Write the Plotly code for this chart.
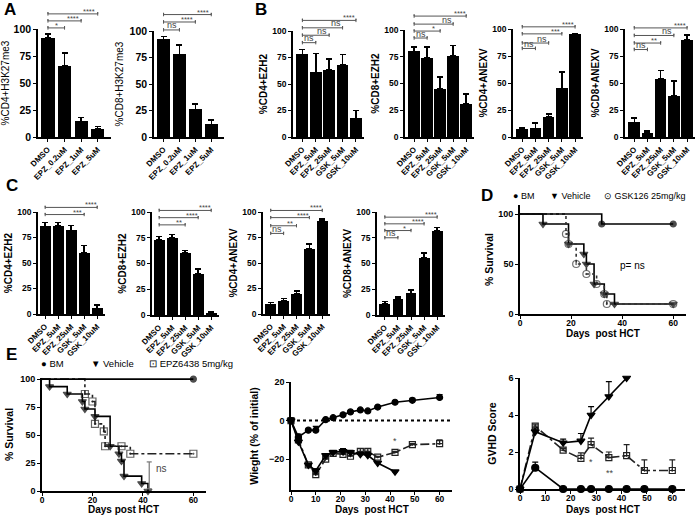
import plotly.graph_objects as go

W, H = 700, 515
FONT = "Liberation Sans, Arial, sans-serif"

# ---------------- data ----------------
A_cats = ["DMSO", "EPZ_0.2uM", "EPZ_1uM", "EPZ_5uM"]
BC_cats = ["DMSO", "EPZ_5uM", "EPZ_25uM", "GSK_5uM", "GSK_10uM"]

A1_mean = [92, 66, 14.5, 7.5]
A1_err = [3.5, 12, 3.5, 2]
A1_sig_to = [1, 2, 3]
A1_sig_lbl = ["*", "****", "****"]
A1_sig_y = [101, 107.5, 114]

A2_mean = [92, 78, 26, 12]
A2_err = [3, 9, 5, 4]
A2_sig_to = [1, 2, 3]
A2_sig_lbl = ["ns", "****", "****"]
A2_sig_y = [101, 108.5, 115.5]

B1_mean = [78, 61, 63, 68, 17.5]
B1_err = [4.5, 18, 10.5, 10, 7.5]
B1_sig_to = [1, 2, 3, 4]
B1_sig_lbl = ["ns", "ns", "ns", "****"]
B1_sig_y = [89, 96, 103, 110]

B2_mean = [80, 74, 45, 76, 31]
B2_err = [4, 10, 11, 9.5, 9]
B2_sig_to = [1, 2, 3, 4]
B2_sig_lbl = ["ns", "*", "ns", "****"]
B2_sig_y = [92.5, 99, 105.5, 113]

B3_mean = [7, 8, 18.5, 45, 95]
B3_err = [1.5, 5, 3, 15, 1]
B3_sig_to = [1, 2, 3, 4]
B3_sig_lbl = ["ns", "ns", "***", "****"]
B3_sig_y = [82, 87, 95.5, 102]

B4_mean = [13.5, 3.7, 54, 38, 90]
B4_err = [4.3, 2, 7.5, 14, 4.5]
B4_sig_to = [1, 2, 3, 4]
B4_sig_lbl = ["ns", "**", "ns", "****"]
B4_sig_y = [81, 87, 94, 101]

C1_mean = [86, 86.5, 82, 60, 5.5]
C1_err = [3.5, 3, 5, 7, 3.5]
C1_sig_to = [3, 4]
C1_sig_lbl = ["***", "****"]
C1_sig_y = [97.5, 104.5]

C2_mean = [73, 75, 60, 40, 2]
C2_err = [3, 3, 2.5, 4.5, 1]
C2_sig_to = [2, 3, 4]
C2_sig_lbl = ["**", "****", "****"]
C2_sig_y = [87.5, 94.5, 101.5]

C3_mean = [9.5, 13, 20, 64, 91]
C3_err = [2, 2, 2.5, 4.5, 2]
C3_sig_to = [1, 2, 3, 4]
C3_sig_lbl = ["ns", "**", "****", "****"]
C3_sig_y = [79, 86.5, 94.5, 101.5]

C4_mean = [11, 15.5, 21, 55.5, 82]
C4_err = [2, 2, 3.5, 4.5, 3]
C4_sig_to = [1, 2, 3, 4]
C4_sig_lbl = ["ns", "*", "****", "****"]
C4_sig_y = [75, 82, 88.5, 95]

# D: survival (GSK126)
D_BM_day = [0, 32, 60]
D_BM_surv = [100, 90, 90]
D_veh_day = [0, 9, 19, 25, 26, 29, 33, 37, 60]
D_veh_surv = [100, 90, 70, 60, 50, 30, 20, 10, 10]
D_gsk_day = [0, 18, 19, 22, 26, 30, 33, 34, 60]
D_gsk_surv = [100, 80, 70, 50, 40, 30, 20, 10, 10]

# E1: survival (EPZ6438)
E1_BM_day = [0, 60]
E1_BM_surv = [100, 100]
E1_veh_day = [0, 3, 10, 16, 17, 21, 27, 30.5, 31.5, 32.5, 39.5, 42]
E1_veh_surv = [100, 93.3, 86.7, 80, 73.3, 66.7, 40, 33.3, 26.7, 13.3, 6.7, 0]
E1_epz_day = [0, 17, 20, 21, 24.5, 25, 31.5, 35, 60]
E1_epz_surv = [100, 86.7, 80, 60, 53.3, 40, 40, 33.3, 33.3]
E1_ns_day = 42.5
E1_ns_lo, E1_ns_hi = 2, 26

# E2: weight
E2_days = [0, 3, 7, 10, 14, 17, 21, 24, 28, 31, 35, 42, 49, 60]
E2_BM = [0, -8.5, -5, -5, 0.5, 1.5, 3, 4.5, 5.5, 5, 7, 9.5, 10.5, 12]
E2_BM_err = [0, 1.5, 1, 2, 0.5, 0.5, 0.5, 0.5, 0.5, 0.5, 0.5, 0.5, 1, 1.5]
E2_veh_days = [0, 3, 7, 10, 14, 17, 21, 24, 28, 31, 35, 42]
E2_veh = [0, -11, -23, -26, -18, -16.5, -16, -16.5, -17.5, -18, -22, -26.5]
E2_veh_err = [0, 1, 0.5, 1, 0.5, 0.5, 1.5, 1, 1, 1.5, 0.5, 0.5]
E2_epz = [0, -10, -23, -28, -20, -17, -17.5, -18.5, -16, -16, -19, -16.5, -12.5, -12]
E2_epz_err = [0, 1, 0.5, 0.5, 0.5, 0.5, 0.5, 0.5, 1.5, 1.5, 0.5, 0.5, 0.5, 2]
E2_star = (42, -10.5, "*")

# E3: GVHD score
E3_BM_days = [0, 6, 17, 24, 28, 35, 42, 49, 60]
E3_BM = [0, 1.15, 0, 0, 0, 0, 0, 0, 0]
E3_BM_err = [0, 0.3, 0, 0, 0, 0, 0, 0, 0]
E3_veh_days = [0, 6, 17, 24, 28, 35, 42]
E3_veh = [0, 3.1, 2.5, 2.6, 4.0, 5.0, 6.0]
E3_veh_err = [0, 0.2, 0.2, 0.4, 0.45, 0.8, 0]
E3_epz_days = [0, 6, 17, 24, 28, 35, 42, 49, 60]
E3_epz = [0, 3.4, 2.1, 1.65, 2.4, 1.7, 1.8, 1.0, 1.0]
E3_epz_err = [0, 0.1, 0.1, 0.3, 0.35, 0.3, 0.6, 0.57, 0.57]
E3_stars = [(28, 1.45, "*"), (35.5, 0.85, "**")]

# ---------------- helpers ----------------
fig = go.Figure()
layout = {}
annots = []
shapes = []
counter = [0]


def px_x(a, b):
    return [a / W, b / W]


def px_y(top, bot):
    return [1 - bot / H, 1 - top / H]


def new_id():
    counter[0] += 1
    return counter[0]


def names(n):
    return ("xaxis" if n == 1 else f"xaxis{n}", "yaxis" if n == 1 else f"yaxis{n}",
            "x" if n == 1 else f"x{n}", "y" if n == 1 else f"y{n}")


def axis_common():
    return dict(showline=True, linecolor="black", linewidth=1.6, ticks="outside",
                ticklen=3, tickwidth=1.4, tickcolor="black", showgrid=False,
                zeroline=False, fixedrange=True, automargin=False)


def tickf(size):
    return dict(family=FONT, size=size, color="black", weight="bold")


def bar_panel(box, cats, mean, err, sig_to, sig_lbl, sig_y, ytitle, xr, bw,
              title_bold, ext_top, ytick_size, standoff):
    x0, x1, ytop, ybot = box
    n = new_id()
    xa, ya, xref, yref = names(n)
    m = new_id()
    _, yb, _, ybref = names(m)
    layout[xa] = dict(domain=px_x(x0, x1), range=xr, anchor=yref,
                      tickvals=list(range(len(cats))), ticktext=cats,
                      tickangle=-45, tickfont=tickf(8), **axis_common())
    layout[ya] = dict(domain=px_y(ytop, ybot), range=[0, 100], anchor=xref,
                      tickvals=[0, 25, 50, 75, 100], tickfont=tickf(ytick_size),
                      title=dict(text=ytitle, standoff=standoff,
                                 font=dict(family=FONT, size=10, color="black",
                                           weight="bold" if title_bold else "normal")),
                      **axis_common())
    rmax = 100 * (ybot - ext_top) / (ybot - ytop)
    layout[yb] = dict(domain=px_y(ext_top, ybot), range=[0, rmax], anchor=xref,
                      visible=False, fixedrange=True)
    fig.add_trace(go.Bar(x=list(range(len(cats))), y=mean, width=bw,
                         marker=dict(color="black", line=dict(width=0)),
                         error_y=dict(type="data", symmetric=False, array=err,
                                      arrayminus=[0] * len(err), color="black",
                                      thickness=1.5, width=3),
                         xaxis=xref, yaxis=yref, showlegend=False))
    d = 1.6
    for t, lbl, sy in zip(sig_to, sig_lbl, sig_y):
        fig.add_trace(go.Scatter(x=[0, 0, 0, t, t, t], y=[sy - d, sy + d, sy, sy, sy + d, sy - d],
                                 mode="lines", line=dict(color="#555", width=1),
                                 xaxis=xref, yaxis=ybref, showlegend=False, hoverinfo="skip"))
        star = lbl != "ns"
        annots.append(dict(x=t - 0.5, y=sy, xref=xref, yref=ybref, text=lbl,
                           showarrow=False, yanchor="bottom",
                           yshift=-4 if star else -2.5,
                           font=dict(family=FONT, size=7.5 if star else 9, color="#444")))


def line_axes(box, xrange_, xticks, yrange, yticks, ytitle, xtitle, xtitle_py, standoff):
    x0, x1, ytop, ybot = box
    n = new_id()
    xa, ya, xref, yref = names(n)
    layout[xa] = dict(domain=px_x(x0, x1), range=xrange_, anchor=yref, tickvals=xticks,
                      tickfont=tickf(8.5), ticklabelstandoff=-3, **axis_common())
    layout[ya] = dict(domain=px_y(ytop, ybot), range=yrange, anchor=xref, tickvals=yticks,
                      tickfont=tickf(9),
                      title=dict(text=ytitle, standoff=standoff,
                                 font=dict(family=FONT, size=10.5, color="black", weight="bold")),
                      **axis_common())
    annots.append(dict(x=0.5, y=1 - xtitle_py / H, xref=xref + " domain", yref="paper",
                       text=xtitle, showarrow=False, xanchor="center", yanchor="middle",
                       font=dict(family=FONT, size=10, color="black", weight="bold")))
    return xref, yref


# ---------------- bar panels ----------------
bar_panel((38, 111, 29, 137), A_cats, A1_mean, A1_err, A1_sig_to, A1_sig_lbl, A1_sig_y,
          "%CD4+H3K27me3", [-0.6, 3.8], 0.8, False, 3, 10.5, 5)
bar_panel((154, 224, 31, 137), A_cats, A2_mean, A2_err, A2_sig_to, A2_sig_lbl, A2_sig_y,
          "%CD8+H3K27me3", [-0.6, 3.8], 0.8, False, 3, 10.5, 4)
bar_panel((293, 364, 31, 137), BC_cats, B1_mean, B1_err, B1_sig_to, B1_sig_lbl, B1_sig_y,
          "%CD4+EZH2", [-0.7, 4.6], 0.88, True, 3, 8.5, 3)
bar_panel((405, 474, 30, 137), BC_cats, B2_mean, B2_err, B2_sig_to, B2_sig_lbl, B2_sig_y,
          "%CD8+EZH2", [-0.7, 4.6], 0.88, True, 3, 8.5, 3)
bar_panel((513, 583, 29, 137), BC_cats, B3_mean, B3_err, B3_sig_to, B3_sig_lbl, B3_sig_y,
          "%CD4+ANEXV", [-0.7, 4.6], 0.88, True, 3, 8.5, 3)
bar_panel((625, 695, 29, 137), BC_cats, B4_mean, B4_err, B4_sig_to, B4_sig_lbl, B4_sig_y,
          "%CD8+ANEXV", [-0.7, 4.6], 0.88, True, 3, 8.5, 3)

bar_panel((38, 105, 212, 314), BC_cats, C1_mean, C1_err, C1_sig_to, C1_sig_lbl, C1_sig_y,
          "%CD4+EZH2", [-0.55, 4.6], 0.83, True, 190, 8.5, 3)
bar_panel((152, 219, 212, 315), BC_cats, C2_mean, C2_err, C2_sig_to, C2_sig_lbl, C2_sig_y,
          "%CD8+EZH2", [-0.55, 4.6], 0.83, True, 190, 8.5, 3)
bar_panel((263, 330, 212, 314), BC_cats, C3_mean, C3_err, C3_sig_to, C3_sig_lbl, C3_sig_y,
          "%CD4+ANEXV", [-0.6, 4.6], 0.83, True, 190, 8.5, 3)
bar_panel((377, 445, 212, 315), BC_cats, C4_mean, C4_err, C4_sig_to, C4_sig_lbl, C4_sig_y,
          "%CD8+ANEXV", [-0.6, 4.6], 0.83, True, 190, 8.5, 3)

# ---------------- D survival ----------------
xr, yr = line_axes((520, 686, 205, 314), [0, 65], [0, 20, 40, 60], [0, 109], [0, 50, 100],
                   "% Survival", "Days  post HCT", 333, 3)


def km(x, y, sym, dash, color, size, xref, yref, lw=1.6, first_marker=False):
    sizes = [size] * len(x)
    if not first_marker:
        sizes[0] = 0
    fig.add_trace(go.Scatter(x=x, y=y, mode="lines+markers", line=dict(shape="hv", color=color, width=lw, dash=dash),
                             marker=dict(symbol=sym, size=sizes, color=color, line=dict(color=color, width=1.2)),
                             cliponaxis=False, xaxis=xref, yaxis=yref, showlegend=False))


km(D_veh_day, D_veh_surv, "triangle-down", "solid", "black", 7, xr, yr)
km(D_gsk_day, D_gsk_surv, "circle-open-dot", "dot", "#333", 7, xr, yr)
km(D_BM_day, D_BM_surv, "circle", "solid", "black", 6, xr, yr)
annots.append(dict(x=44, y=49, xref=xr, yref=yr, text="p= ns", showarrow=False,
                   font=dict(family=FONT, size=10, color="black")))

# ---------------- E1 survival ----------------
xr, yr = line_axes((42, 206, 378, 491), [0, 65], [0, 20, 40, 60], [0, 101], [0, 25, 50, 75, 100],
                   "% Survival", "Days post HCT", 509.5, 5)
km(E1_veh_day, E1_veh_surv, "triangle-down", "solid", "black", 7, xr, yr)
km(E1_epz_day, E1_epz_surv, "square-open-dot", "dashdot", "#222", 7, xr, yr)
km(E1_BM_day, E1_BM_surv, "circle", "solid", "black", 6, xr, yr)
fig.add_trace(go.Scatter(x=[E1_ns_day - 1, E1_ns_day + 1, None, E1_ns_day, E1_ns_day, None,
                            E1_ns_day - 1, E1_ns_day + 1],
                         y=[E1_ns_hi, E1_ns_hi, None, E1_ns_hi, E1_ns_lo, None, E1_ns_lo, E1_ns_lo],
                         mode="lines", line=dict(color="#777", width=1.2), xaxis=xr, yaxis=yr,
                         showlegend=False, hoverinfo="skip"))
annots.append(dict(x=E1_ns_day + 2, y=(E1_ns_lo + E1_ns_hi) / 2 + 6, xref=xr, yref=yr, text="ns",
                   showarrow=False, xanchor="left", font=dict(family=FONT, size=10, color="#444")))

# ---------------- E2 weight ----------------
xr, yr = line_axes((291, 452, 382, 490), [0, 65], [0, 10, 20, 30, 40, 50, 60], [-36, 20], [-20, 0, 20],
                   "Wieght (% of initial)", "Days  post HCT", 509.5, 8)
shapes.append(dict(type="line", xref=xr + " domain", yref=yr, x0=0, x1=1, y0=0, y1=0,
                   line=dict(color="black", width=2, dash="dot")))


def series(x, y, e, sym, dash, color, xref, yref, size=6):
    fig.add_trace(go.Scatter(x=x, y=y, mode="lines+markers",
                             line=dict(color=color, width=1.6, dash=dash),
                             marker=dict(symbol=sym, size=size, color=color, line=dict(color=color, width=1.2)),
                             error_y=dict(type="data", symmetric=False, array=e, arrayminus=[0] * len(e),
                                          color=color, thickness=1.2, width=3),
                             cliponaxis=False, xaxis=xref, yaxis=yref, showlegend=False))


series(E2_days, E2_epz, E2_epz_err, "square-open-dot", "dashdot", "#222", xr, yr)
series(E2_veh_days, E2_veh, E2_veh_err, "triangle-down", "solid", "black", xr, yr, 7)
series(E2_days, E2_BM, E2_BM_err, "circle", "solid", "black", xr, yr)
annots.append(dict(x=E2_star[0], y=E2_star[1], xref=xr, yref=yr, text=E2_star[2], showarrow=False,
                   font=dict(family=FONT, size=9, color="#444")))

# ---------------- E3 GVHD ----------------
xr, yr = line_axes((520, 685, 378, 489), [0, 65], [0, 10, 20, 30, 40, 50, 60], [0, 6], [0, 2, 4, 6],
                   "GVHD Score", "Days  post HCT", 509.5, 10)
series(E3_epz_days, E3_epz, E3_epz_err, "square-open-dot", "dashdot", "#222", xr, yr)
series(E3_veh_days, E3_veh, E3_veh_err, "triangle-down", "solid", "black", xr, yr, 7)
series(E3_BM_days, E3_BM, E3_BM_err, "circle", "solid", "black", xr, yr, 7)
for sx, sy, st in E3_stars:
    annots.append(dict(x=sx, y=sy, xref=xr, yref=yr, text=st, showarrow=False,
                       font=dict(family=FONT, size=9, color="#444")))

# ---------------- panel letters & legends ----------------
for letter, (px, py) in {"A": (10, 10), "B": (261, 10), "C": (12, 186), "D": (487, 196),
                         "E": (11, 354)}.items():
    annots.append(dict(x=px / W, y=1 - py / H, xref="paper", yref="paper", text=letter,
                       xanchor="center", yanchor="middle",
                       showarrow=False, font=dict(family=FONT, size=17, color="black", weight="bold")))


def legend_row(items, py, size):
    for px, glyph, label in items:
        annots.append(dict(x=px / W, y=1 - py / H, xref="paper", yref="paper", xanchor="left",
                           yanchor="middle", text=glyph + " " + label, showarrow=False,
                           font=dict(family=FONT, size=size, color="black")))


legend_row([(511, "●", "BM"), (548, "▼", "Vehicle"), (602, "⊙", "GSK126 25mg/kg")], 196, 9)
legend_row([(39, "●", "BM"), (89, "▼", "Vehicle"), (147, "⊡", "EPZ6438 5mg/kg")], 363, 9.5)

layout.update(width=W, height=H, margin=dict(l=0, r=0, t=0, b=0, autoexpand=False),
              paper_bgcolor="white", plot_bgcolor="rgba(0,0,0,0)", showlegend=False,
              annotations=annots, shapes=shapes, bargap=0, font=dict(family=FONT))
fig.update_layout(**layout)
fig.write_html("out.html", config={"displayModeBar": False},
               post_script="document.body.style.margin='0';document.body.style.overflow='hidden';")
